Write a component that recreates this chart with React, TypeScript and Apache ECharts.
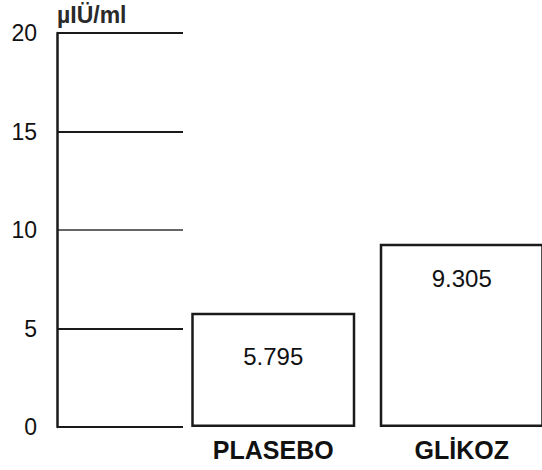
import React, { useEffect, useRef } from "react";
import * as echarts from "echarts";

const categories = ["PLASEBO", "GLİKOZ"];
const values = [5.795, 9.305];
const valueLabels = ["5.795", "9.305"];
const unitName = "µIÜ/ml";
const yMin = 0;
const yMax = 20;
const yInterval = 5;

const FONT = "'Liberation Sans', Arial, Helvetica, sans-serif";

export default function App() {
  const ref = useRef<HTMLDivElement>(null);
  useEffect(() => {
    if (!ref.current) return;
    const chart = echarts.init(ref.current, null, { renderer: "svg" });
    chart.setOption({
      animation: false,
      backgroundColor: "#ffffff",
      grid: [
        { left: 57, width: 126, top: 33, bottom: 43, outerBoundsMode: "none", containLabel: false },
        { left: 179, width: 377, top: 33, bottom: 43, outerBoundsMode: "none", containLabel: false },
      ],
      xAxis: [
        { gridIndex: 0, type: "value", show: false, min: 0, max: 1 },
        {
          gridIndex: 1,
          type: "category",
          data: categories,
          axisLine: { show: false },
          axisTick: { show: false },
          axisLabel: {
            margin: 10,
            fontFamily: FONT,
            fontWeight: "bold",
            fontSize: 25,
            color: "#111",
          },
        },
      ],
      yAxis: [
        {
          gridIndex: 0,
          type: "value",
          min: yMin,
          max: yMax,
          interval: yInterval,
          name: unitName,
          nameLocation: "end",
          nameGap: 7,
          nameTextStyle: {
            align: "left",
            fontFamily: FONT,
            fontWeight: "bold",
            fontSize: 23,
            color: "#2a2a2a",
          },
          axisLine: { show: true, onZero: false, lineStyle: { color: "#1a1a1a", width: 2.5 } },
          axisTick: { show: false },
          axisLabel: {
            margin: 20,
            fontFamily: FONT,
            fontSize: 23,
            color: "#111",
          },
          splitLine: {
            show: true,
            lineStyle: {
              color: ["#1a1a1a", "#1a1a1a", "#666666", "#1a1a1a", "#1a1a1a"],
              width: 2,
            },
          },
        },
        {
          gridIndex: 1,
          type: "value",
          min: yMin,
          max: yMax,
          interval: yInterval,
          show: false,
          splitLine: { show: false },
        },
      ],
      series: [
        {
          type: "bar",
          xAxisIndex: 1,
          yAxisIndex: 1,
          barWidth: 164,
          data: values.map((v, i) => ({
            value: v,
            label: {
              show: true,
              position: "insideTop",
              distance: i === 0 ? 32 : 23,
              formatter: () => valueLabels[i],
              fontFamily: FONT,
              fontSize: 24,
              color: "#111",
            },
          })),
          itemStyle: {
            color: "#ffffff",
            borderColor: "#1a1a1a",
            borderWidth: 2.5,
          },
        },
      ],
    });
    return () => chart.dispose();
  }, []);
  return <div ref={ref} style={{ width: 542, height: 470, position: "absolute", left: 0, top: 0 }} />;
}
